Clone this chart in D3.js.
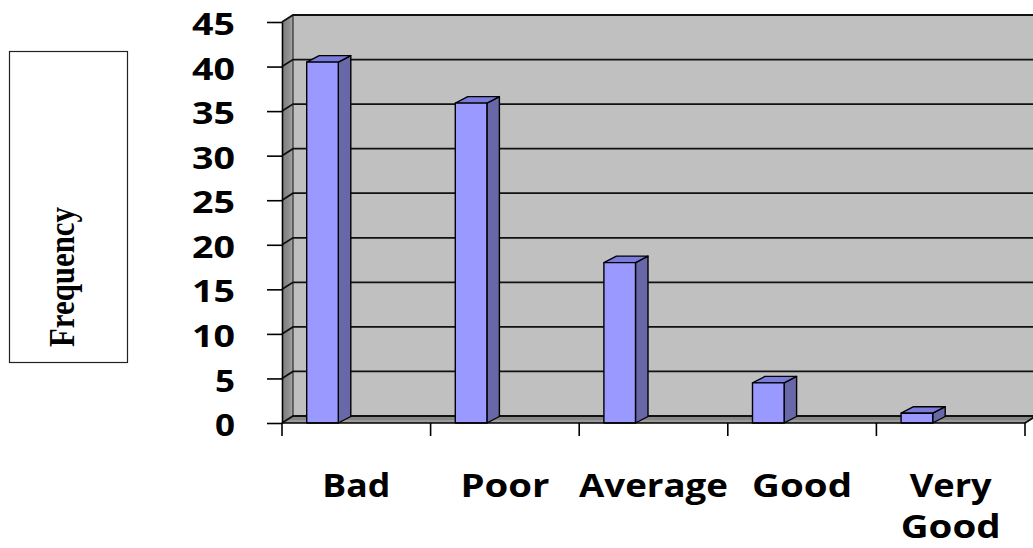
<!DOCTYPE html>
<html>
<head>
<meta charset="utf-8">
<script src="https://cdn.jsdelivr.net/npm/d3@7"></script>
<style>
  html, body { margin: 0; padding: 0; background: #ffffff; }
  svg { display: block; }
</style>
</head>
<body>
<svg id="chart" width="1033" height="548"></svg>
<script>
// ---- data ----
const categories = ["Bad", "Poor", "Average", "Good", "Very Good"];
const values = [40.5, 35.9, 18.0, 4.5, 1.1];
const yTicks = [0, 5, 10, 15, 20, 25, 30, 35, 40, 45];
const yTitle = "Frequency";

// ---- layout ----
const svg = d3.select("#chart");
const W = 1033, H = 548;
const plotLeft = 282, plotRight = 1025;
const plotBottom = 423, plotTop = 22;
const DX = 11, DY = -7;          // wall depth
const BDX = 12.5, BDY = -6.5;    // bar depth

const x = d3.scaleBand().domain(categories).range([plotLeft, plotRight]).paddingInner(0).paddingOuter(0);
const y = d3.scaleLinear().domain([0, 45]).range([plotBottom, plotTop]);

// back wall
svg.append("rect")
  .attr("x", plotLeft + DX).attr("y", y(45) + DY)
  .attr("width", W - (plotLeft + DX) + 5).attr("height", y(0) - y(45))
  .attr("fill", "#c0c0c0");

// left side wall
const sideGrad = svg.append("defs").append("linearGradient").attr("id", "sideg")
  .attr("x1", "0").attr("x2", "1").attr("y1", "0").attr("y2", "0");
sideGrad.append("stop").attr("offset", "0").attr("stop-color", "#7c7c7c");
sideGrad.append("stop").attr("offset", "0.6").attr("stop-color", "#8e8e8e");
sideGrad.append("stop").attr("offset", "1").attr("stop-color", "#a8a8a8");
svg.append("polygon")
  .attr("points", [[plotLeft, y(45)], [plotLeft + DX, y(45) + DY], [plotLeft + DX, y(0) + DY], [plotLeft, y(0)]].map(p => p.join(",")).join(" "))
  .attr("fill", "url(#sideg)");

// floor
svg.append("polygon")
  .attr("points", [[plotLeft, y(0)], [plotRight, y(0)], [plotRight + DX, y(0) + DY], [plotLeft + DX, y(0) + DY]].map(p => p.join(",")).join(" "))
  .attr("fill", "#9a9a9a");
svg.append("polygon")
  .attr("points", [[plotLeft + 4, y(0) - 3], [plotRight + 5, y(0) - 3], [plotRight + DX, y(0) + DY], [plotLeft + DX, y(0) + DY]].map(p => p.join(",")).join(" "))
  .attr("fill", "#868686");

// gridlines (side-wall diagonal + back-wall horizontal)
const grid = svg.append("g").attr("fill", "none").attr("stroke", "#111").attr("stroke-width", 1.8);
yTicks.forEach(v => {
  grid.append("path")
    .attr("d", `M${plotLeft},${y(v)} L${plotLeft + DX},${y(v) + DY} L${W + 2},${y(v) + DY}`);
});
// back wall left edge
grid.append("line")
  .attr("x1", plotLeft + DX).attr("y1", y(45) + DY)
  .attr("x2", plotLeft + DX).attr("y2", y(0) + DY)
  .attr("stroke-width", 1);
// floor right edge
grid.append("line")
  .attr("x1", plotRight).attr("y1", y(0))
  .attr("x2", plotRight + DX).attr("y2", y(0) + DY);

// bars
const bw = 31.6, bOff = 24.7;
const bars = svg.append("g").attr("stroke", "#000").attr("stroke-width", 1.4).attr("stroke-linejoin", "round");
categories.forEach((c, i) => {
  const x0 = x(c) + bOff, x1 = x0 + bw;
  const yt = y(values[i]), yb = y(0);
  bars.append("polygon")
    .attr("points", [[x1, yt], [x1 + BDX, yt + BDY], [x1 + BDX, yb + BDY], [x1, yb]].map(p => p.join(",")).join(" "))
    .attr("fill", "#6868a8");
  bars.append("polygon")
    .attr("points", [[x0, yt], [x0 + BDX, yt + BDY], [x1 + BDX, yt + BDY], [x1, yt]].map(p => p.join(",")).join(" "))
    .attr("fill", "#7b7bdc");
  bars.append("rect")
    .attr("x", x0).attr("y", yt).attr("width", bw).attr("height", yb - yt)
    .attr("fill", "#9999ff");
});

// y axis
const yAxis = d3.axisLeft(y).tickValues(yTicks).tickSize(15).tickSizeOuter(0).tickPadding(32);
const gy = svg.append("g").attr("transform", `translate(${plotLeft},0)`).call(yAxis);
gy.select(".domain").attr("stroke", "#000").attr("stroke-width", 1.6);
gy.selectAll(".tick line").attr("stroke", "#000").attr("stroke-width", 1.6);
gy.selectAll(".tick text")
  .attr("font-family", "'Open Sans', sans-serif")
  .attr("font-weight", "bold")
  .attr("font-size", 30)
  .attr("fill", "#000")
  .attr("dy", "0.42em")
  .attr("textLength", d => String(d).length > 1 ? 43 : 20)
  .attr("lengthAdjust", "spacingAndGlyphs");

// x axis line + ticks at band boundaries
const gx = svg.append("g").attr("stroke", "#000").attr("stroke-width", 1.6);
gx.append("line").attr("x1", plotLeft).attr("x2", plotRight).attr("y1", y(0)).attr("y2", y(0));
const bounds = categories.map(c => x(c)).concat([x(categories[categories.length - 1]) + x.bandwidth()]);
bounds.forEach(b => {
  gx.append("line").attr("x1", b).attr("x2", b).attr("y1", y(0)).attr("y2", y(0) + 13);
});

// category labels (multi-line labels as tspans of one text)
const labelWidths = { "Bad": 68, "Poor": 89, "Average": 149, "Good": 100, "Very": 82 };
const xl = svg.append("g")
  .attr("font-family", "'Open Sans', sans-serif")
  .attr("font-weight", "bold")
  .attr("font-size", 33)
  .attr("fill", "#000")
  .attr("text-anchor", "middle");
categories.forEach(c => {
  const cx = x(c) + x.bandwidth() / 2;
  const t = xl.append("text");
  c.split(" ").forEach((w, j) => {
    t.append("tspan")
      .attr("x", cx).attr("y", 497 + j * 41)
      .attr("textLength", labelWidths[w] || 100)
      .attr("lengthAdjust", "spacingAndGlyphs")
      .text(w);
  });
});

// y title box
svg.append("rect")
  .attr("x", 9.5).attr("y", 51.5).attr("width", 118).attr("height", 311)
  .attr("fill", "#fff").attr("stroke", "#222").attr("stroke-width", 1.2);
svg.append("text")
  .attr("transform", "translate(74,277) rotate(-90)")
  .attr("text-anchor", "middle")
  .attr("font-family", "'Liberation Serif', 'DejaVu Serif', serif")
  .attr("font-weight", "bold")
  .attr("font-size", 35)
  .attr("textLength", 140)
  .attr("lengthAdjust", "spacingAndGlyphs")
  .attr("fill", "#000")
  .text(yTitle);
</script>
</body>
</html>
